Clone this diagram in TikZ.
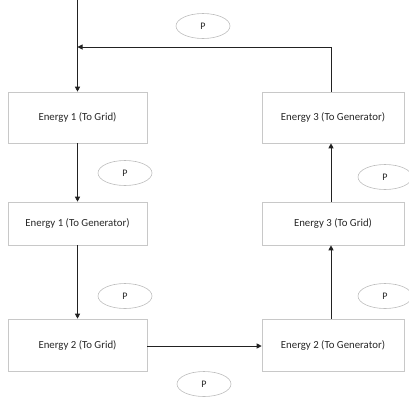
\documentclass[tikz,border=0pt]{standalone}
\usepackage{fontspec}
\setmainfont{Carlito}
\usetikzlibrary{arrows.meta,shapes.geometric}
\definecolor{boxline}{HTML}{C8C8C8}
\definecolor{ellline}{HTML}{BDBDBD}
\definecolor{arrline}{HTML}{222222}
\tikzset{
  ebox/.style={draw=boxline,line width=0.6pt,rectangle,inner sep=0pt,font=\fontsize{10.8}{12}\selectfont,text=black!85},
  pell/.style={draw=ellline,line width=0.6pt,ellipse,minimum width=54pt,minimum height=25pt,inner sep=0pt,font=\fontsize{10}{11}\selectfont,text=black!85},
  conn/.style={draw=arrline,line width=0.9pt,-{Triangle[length=5pt,width=5pt]}},
  plain/.style={draw=arrline,line width=0.9pt}
}
\begin{document}
\begin{tikzpicture}[x=1pt,y=-1pt]
\useasboundingbox (0,0) rectangle (409,400);
% boxes
\node[ebox,minimum width=139pt,minimum height=51pt] (a) at (77.5,117.5) {Energy 1 (To Grid)};
\node[ebox,minimum width=139pt,minimum height=43pt] (b) at (77.5,223.5) {Energy 1 (To Generator)};
\node[ebox,minimum width=139pt,minimum height=52pt] (c) at (77.5,345) {Energy 2 (To Grid)};
\node[ebox,minimum width=142pt,minimum height=52pt] (d) at (333,345) {Energy 2 (To Generator)};
\node[ebox,minimum width=142pt,minimum height=43pt] (e) at (333,223.5) {Energy 3 (To Grid)};
\node[ebox,minimum width=142pt,minimum height=51pt] (f) at (333,117.5) {Energy 3 (To Generator)};
% ellipses
\node[pell] (p1) at (203,26) {P};
\node[pell] (p2) at (125,173) {P};
\node[pell] (p3) at (385,177) {P};
\node[pell] (p4) at (125,296) {P};
\node[pell] (p5) at (385,296) {P};
\node[pell] (p6) at (204,384) {P};
% coordinates
\coordinate (top) at (77.5,0);
\coordinate (join) at (77.5,47);
\coordinate (corner) at (331,47);
% connectors
\draw[conn] (top) -- (a.north);
\draw[conn] (a.south) -- (b.north);
\draw[conn] (b.south) -- (c.north);
\draw[conn] (c.east |- 0,346) -- (d.west |- 0,346);
\draw[conn] (d.north -| corner) -- (e.south -| corner);
\draw[conn] (e.north -| corner) -- (f.south -| corner);
\draw[plain] (f.north -| corner) -- (corner);
\draw[conn] (corner) -- (join);
\end{tikzpicture}
\end{document}
